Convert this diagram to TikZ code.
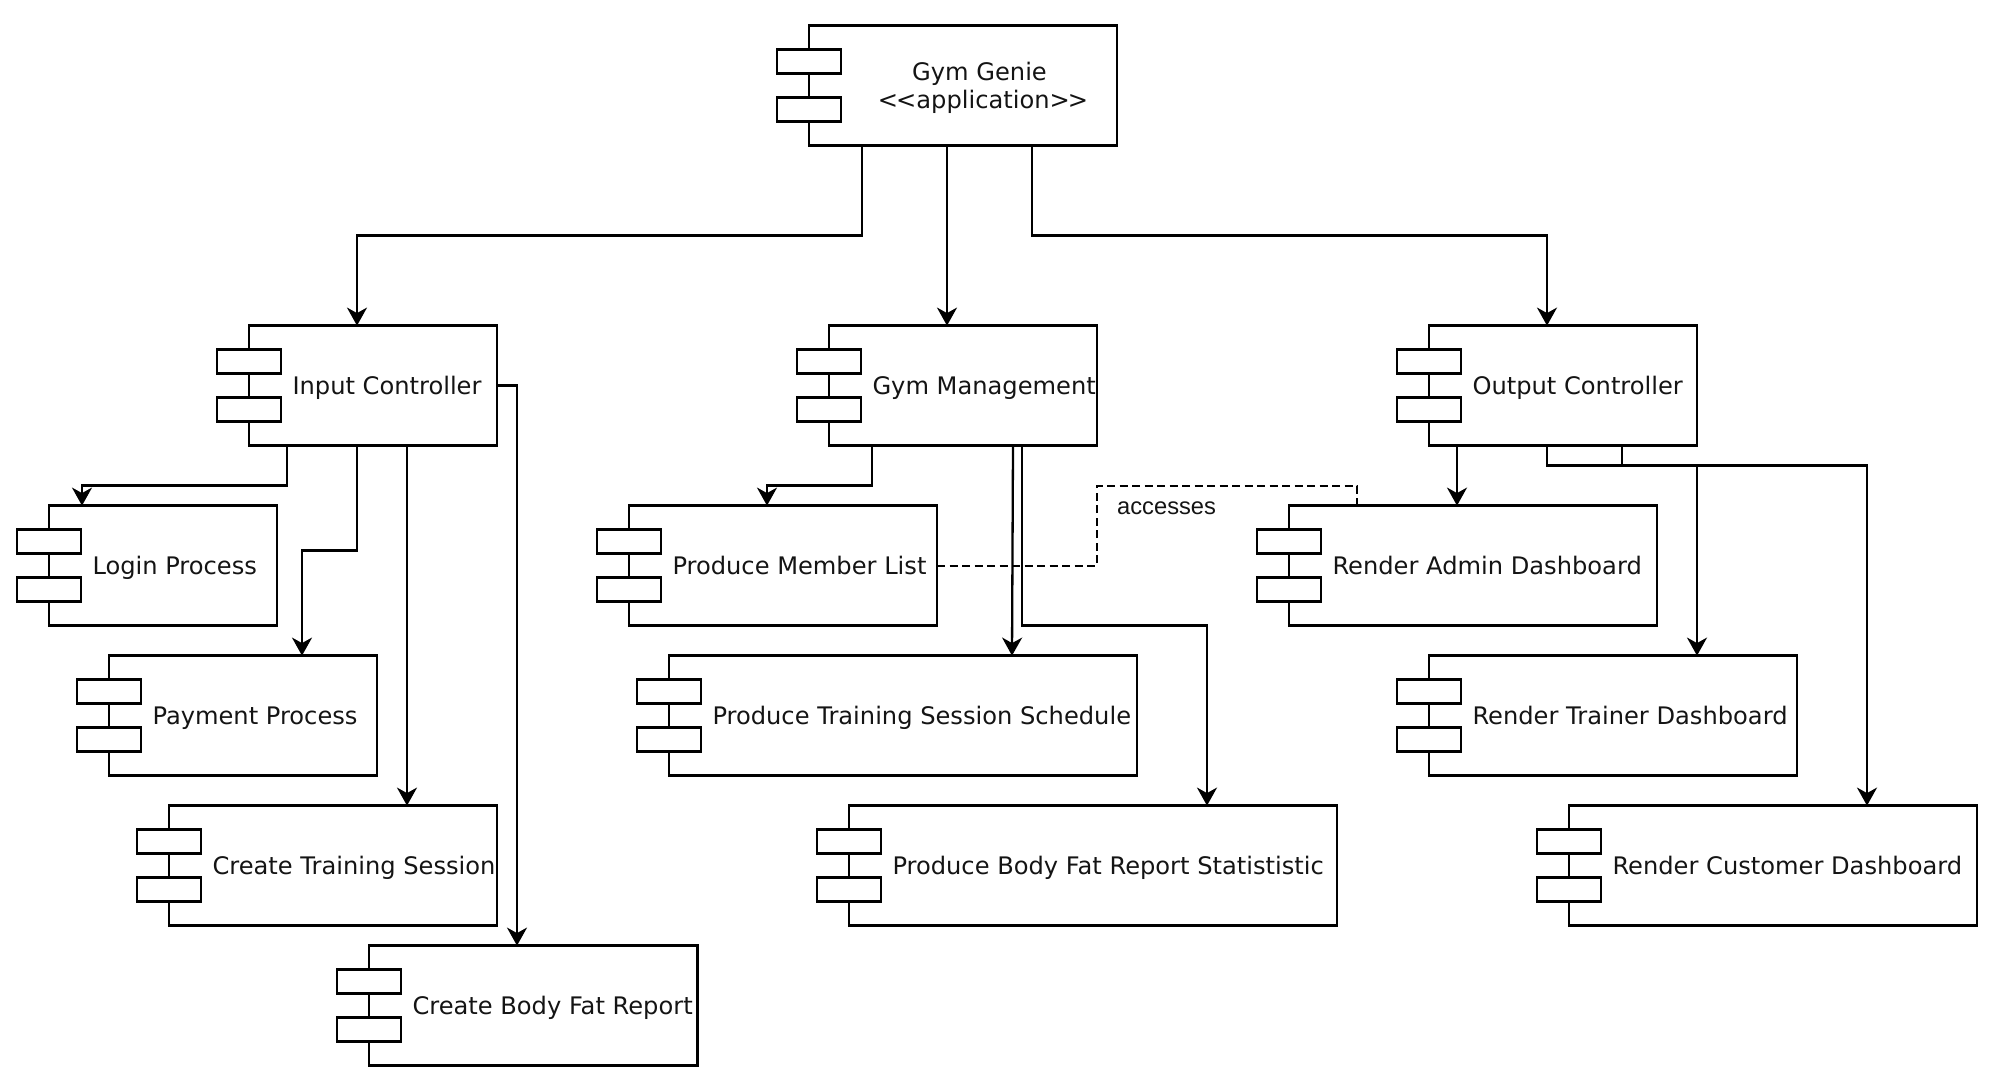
\documentclass[tikz,border=0pt]{standalone}
\usepackage{fontspec}
\setmainfont{DejaVu Sans}
\newfontfamily\acfont{Liberation Sans}
\usetikzlibrary{arrows.meta}
\tikzset{
  boxbody/.style={draw=black,line width=2.3pt,fill=white,inner sep=0pt,outer sep=0pt,anchor=north west},
  stubbox/.style={draw=black,line width=2.3pt,fill=white,inner sep=0pt,outer sep=0pt,anchor=north west,minimum width=64pt,minimum height=24pt},
  labeltext/.style={inner sep=0pt,outer sep=0pt,anchor=base west,text=black!92,font=\fontsize{24.15}{28}\selectfont},
  conn/.style={draw=black,line width=2.3pt,-{Stealth[length=18pt,width=20pt,inset=5.5pt]},line join=miter},
  dep/.style={draw=black,line width=2.2pt,dash pattern=on 8pt off 4.5pt}
}
% name, left, top, right, bottom, text
\newcommand{\compbox}[6]{%
  \pgfmathsetmacro{\boxw}{#4-#2}\pgfmathsetmacro{\boxh}{#5-#3}%
  \node[boxbody,minimum width=\boxw pt,minimum height=\boxh pt] (#1) at (#2,#3) {};
  \node[stubbox] (#1s1) at (#2-32,#3+24) {};
  \node[stubbox] (#1s2) at (#2-32,#3+72) {};
  \node[labeltext] (#1t) at (#2+43.5,#3+68.6) {#6};
}
\begin{document}
\begin{tikzpicture}[x=1pt,y=-1pt]
\useasboundingbox (0,0.4) rectangle (1996,1086.4);
\fill[white] (0,0.4) rectangle (1996,1086.4);

% Gym Genie box
\node[boxbody,minimum width=308pt,minimum height=120pt] (gg) at (809,26) {};
\node[stubbox] (ggs1) at (777,50) {};
\node[stubbox] (ggs2) at (777,98) {};
\node[labeltext,anchor=center,align=center] (ggt) at (983,88.4) {Gym Genie\hspace*{7pt}\\{<}\kern-2pt{<}application{>}\kern-2pt{>}};

\compbox{ic}{249}{326}{497}{446}{Input Controller}
\compbox{gm}{829}{326}{1097}{446}{Gym Management}
\compbox{oc}{1429}{326}{1697}{446}{Output Controller}
\compbox{lp}{49}{506}{277}{626}{Login Process}
\compbox{pp}{109}{656}{377}{776}{Payment Process}
\compbox{ct}{169}{806}{497}{926}{Create Training Session}
\compbox{cb}{369}{946}{697.5}{1066}{Create Body Fat Report}
\compbox{pm}{629}{506}{937}{626}{Produce Member List}
\compbox{ps}{669}{656}{1137}{776}{Produce Training Session Schedule}
\compbox{pb}{849}{806}{1337}{926}{Produce Body Fat Report Statististic}
\compbox{ra}{1289}{506}{1657}{626}{Render Admin Dashboard}
\compbox{rt}{1429}{656}{1797}{776}{Render Trainer Dashboard}
\compbox{rc}{1569}{806}{1977}{926}{Render Customer Dashboard}

% from Gym Genie
\draw[conn] ([xshift=53pt]gg.south west) -- ++(0,90) -| ([xshift=108pt]ic.north west);
\draw[conn] ([xshift=138pt]gg.south west) -- ([xshift=118pt]gm.north west);
\draw[conn] ([xshift=223pt]gg.south west) -- ++(0,90) -| ([xshift=118pt]oc.north west);
% from Input Controller
\draw[conn] ([xshift=38pt]ic.south west) -- ++(0,40) -| ([xshift=33pt]lp.north west);
\draw[conn] ([xshift=108pt]ic.south west) -- ++(0,105) -| ([xshift=193pt]pp.north west);
\draw[conn] ([xshift=158pt]ic.south west) -- ([xshift=238pt]ct.north west);
\draw[conn] (ic.east) -| ([xshift=148pt]cb.north west);
% from Gym Management
\draw[conn] ([xshift=43pt]gm.south west) -- ++(0,40) -| ([xshift=138pt]pm.north west);
\draw[conn] ([xshift=184pt]gm.south west) -- ([xshift=343pt]ps.north west);
\draw[conn] ([xshift=193pt]gm.south west) -- ++(0,180) -| ([xshift=358pt]pb.north west);
% from Output Controller
\draw[conn] ([xshift=28pt]oc.south west) -- ([xshift=168pt]ra.north west);
\draw[conn] ([xshift=193pt]oc.south west) -- ++(0,20) -| ([xshift=268pt]rt.north west);
\draw[conn] ([xshift=118pt]oc.south west) -- ++(0,20) -| ([xshift=298pt]rc.north west);
% dependency
\draw[dep] (pm.east) -- (1097,566) -- (1097,486) -- (1357,486) -- ([xshift=68pt]ra.north west);
\node[inner sep=0pt,anchor=base west,text=black!92,font=\acfont\fontsize{23.7}{26}\selectfont] (acc) at (1117,515) {accesses};
\end{tikzpicture}
\end{document}
